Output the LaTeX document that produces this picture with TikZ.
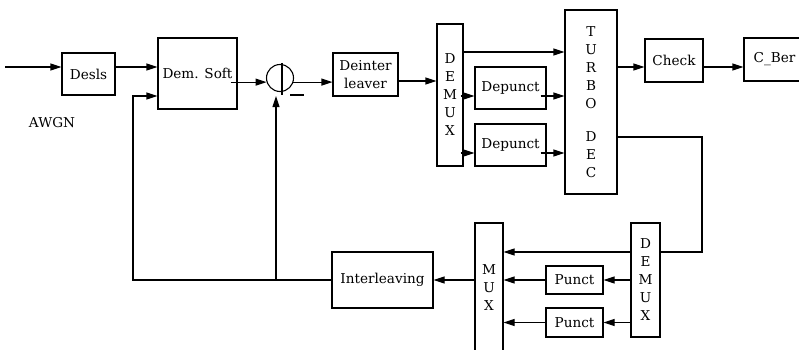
\documentclass[tikz,border=0pt]{standalone}
\usepackage{fontspec}
\setmainfont{DejaVu Serif}
\usetikzlibrary{arrows.meta}

\begin{document}
\begin{tikzpicture}[x=1pt,y=-1pt,
    font=\fontsize{13.6}{18}\selectfont,
    block/.style={draw,line width=1.1pt,inner sep=0pt,align=center},
    wire/.style={line width=1.1pt},
    flow/.style={line width=1.1pt,-{Triangle[length=11pt,width=7pt]}}]

  \useasboundingbox (0,0) rectangle (799,350);

  % --- the forward chain, upper row ---
  \node[block,minimum width=53pt,minimum height=42pt]  (desls)  at (88.5,74)   {Desls};
  \node[block,minimum width=79pt,minimum height=71pt]  (dem)    at (197.5,73.5) {Dem. Soft};
  \node[draw,circle,line width=1.1pt,minimum size=27pt,inner sep=0pt] (sum) at (280,78) {};
  \node[block,minimum width=65pt,minimum height=43pt]  (deint)  at (365.5,74.5) {Deinter\\leaver};
  \node[block,minimum width=26pt,minimum height=142pt] (demuxA) at (450,95)    {D\\E\\M\\U\\X};
  \node[block,minimum width=71pt,minimum height=42pt]  (depA)   at (510.5,88)  {Depunct};
  \node[block,minimum width=71pt,minimum height=42pt]  (depB)   at (510.5,145) {Depunct};
  \node[block,minimum width=52pt,minimum height=184pt] (turbo)  at (591,102)   {T\\U\\R\\B\\O\\[15pt]D\\E\\C};
  \node[block,minimum width=58pt,minimum height=43pt]  (check)  at (674,60.5)  {Check};
  \node[block,minimum width=61pt,minimum height=43pt]  (cber)   at (774.5,59.5) {C\_Ber};
  \node (awgn) at (52,123) {AWGN};

  % --- the feedback chain, lower row ---
  \node[block,minimum width=29pt,minimum height=114pt] (demuxB) at (645.5,280) {D\\E\\M\\U\\X};
  \node[block,minimum width=57pt,minimum height=28pt]  (punA)   at (574.5,280) {Punct};
  \node[block,minimum width=57pt,minimum height=29pt]  (punB)   at (574.5,322.5) {Punct};
  \node[block,minimum width=28pt,minimum height=130pt] (mux)    at (489,288)   {M\\U\\X};
  \node[block,minimum width=101pt,minimum height=56pt] (inter)  at (382.5,280) {Interleaving};

  \coordinate (in)   at (5,67);
  \coordinate (back) at (702,252);
  \coordinate (loop) at (133,280);
  \coordinate (tap)  at (276,280);

  % --- the sign marks in the summing point ---
  \draw[wire] (282,63) -- (282,95);
  \draw[wire] (290,95) -- (304,95);

  % --- connectors, upper row ---
  \draw[flow] (in) -- (desls.west |- in);
  \draw[flow] (desls.east |- in) -- (dem.west |- in);
  \draw[flow,shorten <=-7pt] (dem.east |- sum.197) -- (sum.197);
  \draw[flow] (sum.-17) -- (deint.west |- sum.-17);
  \draw[flow] (deint.east |- 0,81) -- (demuxA.west |- 0,81);
  \draw[flow] (demuxA.east |- 0,52) -- (turbo.west |- 0,52);
  \draw[flow,shorten <=-3pt] (demuxA.east |- 0,96) -- (depA.west |- 0,96);
  \draw[flow,shorten <=-3pt] (demuxA.east |- 0,153) -- (depB.west |- 0,153);
  \draw[flow,shorten <=-6pt] (depA.east |- 0,96) -- (turbo.west |- 0,96);
  \draw[flow,shorten <=-6pt] (depB.east |- 0,153) -- (turbo.west |- 0,153);
  \draw[flow] (turbo.east |- 0,67) -- (check.west |- 0,67);
  \draw[flow] (check.east |- 0,67) -- (cber.west |- 0,67);

  % --- connectors, lower row and the loop back ---
  \draw[wire] (turbo.east |- 0,137) -| (back) -- (demuxB.east |- back);
  \draw[flow] (demuxB.west |- back) -- (mux.east |- back);
  \draw[flow] (demuxB.west |- punA.east) -- (punA.east);
  \draw[flow] (demuxB.west |- punB.east) -- (punB.east);
  \draw[flow] (punA.west) -- (mux.east |- punA.west);
  \draw[flow] (punB.west) -- (mux.east |- punB.west);
  \draw[flow] (mux.west |- inter.east) -- (inter.east);
  \draw[flow] (inter.west) -- (loop) -- (loop |- 0,96) -- (dem.west |- 0,96);
  \draw[flow] (tap) -- (tap |- 0,96);
\end{tikzpicture}
\end{document}
